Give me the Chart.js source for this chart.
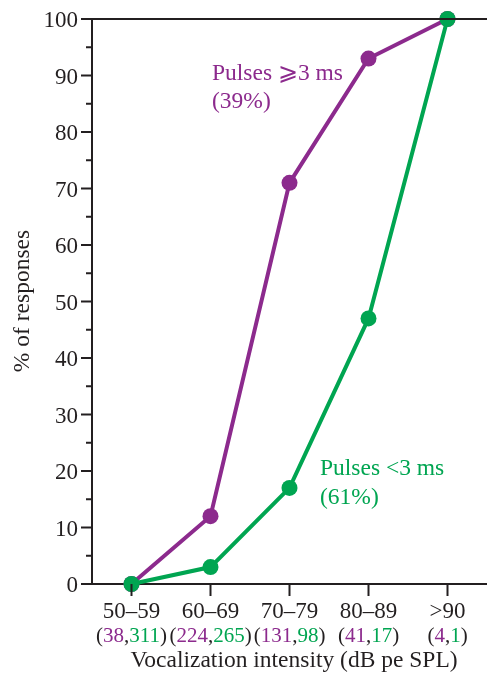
<!DOCTYPE html>
<html>
<head>
<meta charset="utf-8">
<script src="https://cdn.jsdelivr.net/npm/chart.js@4/dist/chart.umd.min.js"></script>
<style>
html,body{margin:0;padding:0;background:#fff;}
#wrap{width:487px;height:676px;position:relative;}
</style>
</head>
<body>
<div id="wrap"><canvas id="c" width="487" height="676"></canvas></div>
<script>
const categories = ['50\u201359', '60\u201369', '70\u201379', '80\u201389', '>90'];
const longPulses = [0, 12, 71, 93, 100];   // Pulses >=3 ms (purple)
const shortPulses = [0, 3, 17, 47, 100];   // Pulses <3 ms (green)
const longCounts = [38, 224, 131, 41, 4];
const shortCounts = [311, 265, 98, 17, 1];
const yTicks = [0, 10, 20, 30, 40, 50, 60, 70, 80, 90, 100];

const PURPLE = '#8c2a8d';
const GREEN = '#00a551';
const INK = '#231f20';
const SERIF = '"Liberation Serif", "Times New Roman", serif';

const drawPlugin = {
  id: 'custom',
  afterDraw(chart) {
    const ctx = chart.ctx;
    const xs = chart.scales.x, ys = chart.scales.y;
    const a = chart.chartArea;
    ctx.save();
    ctx.strokeStyle = INK;
    ctx.lineWidth = 2;
    // top border
    ctx.beginPath(); ctx.moveTo(a.left, a.top); ctx.lineTo(a.right, a.top); ctx.stroke();
    // y ticks (major + minor)
    for (let v = 0; v <= 100; v += 5) {
      const y = ys.getPixelForValue(v);
      const len = v % 10 === 0 ? 11 : 6;
      ctx.beginPath(); ctx.moveTo(a.left - len, y); ctx.lineTo(a.left, y); ctx.stroke();
    }
    // y tick labels
    ctx.fillStyle = INK;
    ctx.font = '23px ' + SERIF;
    ctx.textAlign = 'right';
    ctx.textBaseline = 'alphabetic';
    yTicks.forEach(v => ctx.fillText(String(v), a.left - 14, ys.getPixelForValue(v) + 8));
    // x ticks
    categories.forEach((c, i) => {
      const x = xs.getPixelForValue(i);
      ctx.beginPath(); ctx.moveTo(x, a.bottom); ctx.lineTo(x, a.bottom + 12); ctx.stroke();
    });
    // x labels
    ctx.font = '23px ' + SERIF;
    ctx.textAlign = 'center';
    categories.forEach((c, i) => ctx.fillText(c, xs.getPixelForValue(i), 618));
    // counts line with mixed colours
    ctx.font = '21px ' + SERIF;
    ctx.textAlign = 'left';
    categories.forEach((c, i) => {
      const parts = [['(', INK], [String(longCounts[i]), PURPLE], [',', INK], [String(shortCounts[i]), GREEN], [')', INK]];
      const total = parts.reduce((s, p) => s + ctx.measureText(p[0]).width, 0);
      let x = xs.getPixelForValue(i) - total / 2;
      parts.forEach(p => { ctx.fillStyle = p[1]; ctx.fillText(p[0], x, 642); x += ctx.measureText(p[0]).width; });
    });
    // x title
    ctx.fillStyle = INK;
    ctx.font = '23.5px ' + SERIF;
    ctx.textAlign = 'center';
    ctx.fillText('Vocalization intensity (dB pe SPL)', 294, 667);
    // y title
    ctx.save();
    ctx.translate(29, 301);
    ctx.rotate(-Math.PI / 2);
    ctx.fillText('% of responses', 0, 0);
    ctx.restore();
    // annotations
    ctx.textAlign = 'left';
    ctx.font = '23.5px ' + SERIF;
    ctx.fillStyle = PURPLE;
    ctx.fillText('Pulses \u2A7E3 ms', 212, 80);
    ctx.fillText('(39%)', 212, 108);
    ctx.fillStyle = GREEN;
    ctx.fillText('Pulses <3 ms', 320, 475);
    ctx.fillText('(61%)', 320, 504);
    ctx.restore();
  }
};

new Chart(document.getElementById('c'), {
  type: 'line',
  data: {
    labels: categories,
    datasets: [
      { label: 'Pulses <3 ms', data: shortPulses, borderColor: GREEN, backgroundColor: GREEN,
        pointBackgroundColor: GREEN, pointBorderColor: GREEN, borderWidth: 4, pointRadius: 8, pointBorderWidth: 0, clip: false, tension: 0 },
      { label: 'Pulses \u2A7E3 ms', data: longPulses, borderColor: PURPLE, backgroundColor: PURPLE,
        pointBackgroundColor: PURPLE, pointBorderColor: PURPLE, borderWidth: 4, pointRadius: 8, pointBorderWidth: 0, clip: false, tension: 0 }
    ]
  },
  options: {
    responsive: false,
    animation: false,
    devicePixelRatio: 1,
    layout: { autoPadding: false, padding: { top: 19, right: 0, left: 0, bottom: 0 } },
    plugins: { legend: { display: false }, tooltip: { enabled: false } },
    scales: {
      x: {
        type: 'category',
        offset: true,
        grid: { display: false, drawTicks: false },
        border: { display: true, color: INK, width: 2 },
        ticks: { display: false },
        afterFit(s) { s.height = 92; }
      },
      y: {
        min: 0, max: 100,
        grid: { display: false, drawTicks: false },
        border: { display: true, color: INK, width: 2 },
        ticks: { display: false, stepSize: 10 },
        afterFit(s) { s.width = 92; }
      }
    }
  },
  plugins: [drawPlugin]
});
</script>
</body>
</html>
